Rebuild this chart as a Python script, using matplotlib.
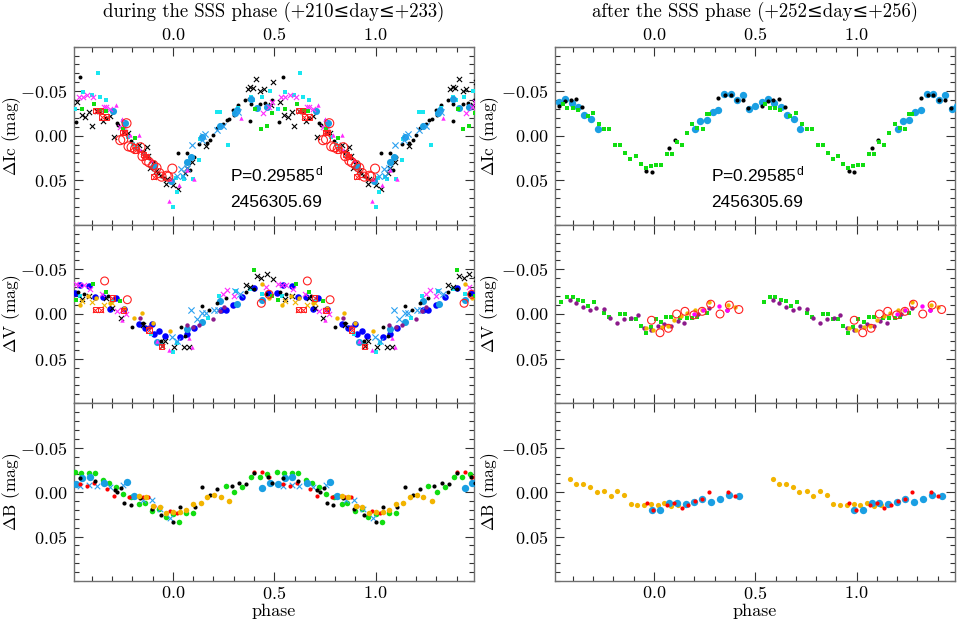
import numpy as np
import matplotlib
matplotlib.use("Agg")
import matplotlib.pyplot as plt
from matplotlib.ticker import FixedLocator, MultipleLocator, FuncFormatter

plt.rcParams['font.family'] = ['cmr10', 'DejaVu Serif']
plt.rcParams['mathtext.fontset'] = 'cm'
plt.rcParams['axes.unicode_minus'] = False

# ---------------- data: phases folded into [-0.5, 0.5) ----------------
# top-left: Delta Ic during SSS
ic_d_kdot_p = [-0.459,-0.479,-0.362,-0.330,-0.278,-0.270,-0.205,-0.150,-0.120,-0.100,-0.072,-0.060,-0.045,0.026,0.071,0.084,0.102,0.130,0.166,0.183,0.199,0.219,0.232,0.248,0.265,0.278,0.298,0.301,0.322,0.355,0.377,0.383,0.380,0.429,0.454,0.487]
ic_d_kdot_m = [-0.066,-0.015,-0.028,-0.020,-0.014,-0.012,0.006,0.018,0.025,0.030,0.042,0.045,0.048,0.020,0.020,0.039,0.024,0.009,0.008,0.005,-0.001,-0.009,-0.012,-0.013,-0.018,-0.019,-0.029,-0.023,-0.035,-0.040,-0.041,-0.036,-0.017,-0.036,-0.037,-0.040]
ic_d_kx_p = [-0.472,-0.451,-0.434,-0.413,-0.401,-0.377,-0.364,-0.344,-0.310,-0.289,-0.242,-0.224,-0.166,-0.146,-0.130,-0.122,-0.113,-0.097,-0.084,-0.036,-0.031,0.002,0.026,0.059,0.071,0.095,0.163,0.368,0.380,0.393,0.410,0.430,0.447,0.462,0.482,0.495]
ic_d_kx_m = [-0.038,-0.023,-0.021,-0.027,-0.011,-0.028,-0.028,-0.016,-0.022,0.001,-0.004,-0.003,0.010,0.018,0.013,0.023,0.036,0.031,0.040,0.054,0.049,0.055,0.060,0.042,0.036,0.029,0.012,-0.052,-0.055,-0.054,-0.064,-0.050,-0.053,-0.033,-0.034,-0.060]
ic_d_cyan_p = [-0.482,-0.446,-0.401,-0.372,-0.360,-0.331,-0.245,-0.220,-0.196,-0.180,-0.140,0.002,0.013,0.018,0.048,0.056,0.100,0.130,0.133,0.215,0.232,0.273,0.306,0.322,0.383,0.396,0.437,0.479]
ic_d_cyan_m = [-0.030,-0.049,-0.046,-0.070,-0.043,-0.040,-0.017,0.001,0.009,0.014,0.022,0.080,0.047,0.063,0.046,0.049,0.049,0.027,0.004,-0.027,-0.027,0.010,-0.026,-0.031,-0.043,-0.040,-0.043,-0.050]
ic_d_dsb_p = [-0.294,-0.234,-0.094,-0.008,0.071,0.090,0.145,0.232,0.306,0.317,0.383,0.413,0.462]
ic_d_dsb_m = [-0.028,-0.014,0.034,0.051,0.029,0.024,0.002,-0.011,-0.025,-0.029,-0.041,-0.031,-0.032]
ic_d_lbx_p = [0.018,0.041,0.048,0.067,0.095,0.141,0.150,0.160,0.215,0.248,0.322]
ic_d_lbx_m = [0.045,0.037,0.045,0.036,0.010,0.005,0.000,-0.002,-0.006,-0.011,-0.027]
ic_d_mx_p = [-0.465,-0.446,-0.423,-0.393,-0.340,-0.330,-0.310,-0.260,-0.240,0.446,0.475,0.490]
ic_d_mx_m = [-0.043,-0.043,-0.046,-0.043,-0.032,-0.032,-0.030,-0.010,-0.007,-0.026,-0.032,-0.038]
ic_d_mtri_p = [-0.283,-0.250,-0.212,-0.168,-0.163,-0.109,-0.020,-0.015,0.030,0.071,0.104,0.334]
ic_d_mtri_m = [-0.034,-0.019,-0.001,-0.001,0.016,0.027,0.073,0.049,0.055,0.038,0.049,-0.020]
ic_d_green_p = [-0.447,-0.390,-0.360,-0.332,-0.245,-0.188,0.405,0.433,0.462,0.490]
ic_d_green_m = [-0.030,-0.036,-0.029,-0.028,-0.008,0.003,-0.030,-0.008,-0.011,-0.025]
ic_d_ro_p = [-0.229,-0.260,-0.245,-0.219,-0.204,-0.187,-0.160,-0.150,-0.130,-0.117,-0.097,-0.081,-0.067,-0.056,-0.031,-0.023,-0.003]
ic_d_ro_m = [-0.014,0.005,0.004,0.012,0.013,0.015,0.013,0.023,0.028,0.030,0.033,0.036,0.042,0.046,0.045,0.046,0.037]
ic_d_rbx_p = [-0.380,-0.360,-0.352,-0.327,-0.248,-0.237,-0.184,-0.146,-0.133,-0.094]
ic_d_rbx_m = [-0.028,-0.028,-0.021,-0.021,-0.004,-0.004,0.016,0.021,0.023,0.046]

# middle-left: Delta V during SSS
v_d_blue_p = [-0.485,-0.459,-0.414,-0.382,-0.345,-0.310,-0.283,-0.242,-0.168,-0.137,-0.102,-0.094,-0.069,-0.041,0.035,0.071,0.104,0.235,0.260,0.298,0.342,0.400,0.469]
v_d_blue_m = [-0.023,-0.032,-0.031,-0.019,-0.019,-0.006,-0.018,-0.006,0.011,0.016,0.011,0.022,0.019,0.025,0.026,0.022,0.016,-0.004,-0.004,-0.010,-0.019,-0.029,-0.023]
v_d_cyan_p = [-0.460,-0.300,-0.107,-0.060,0.002,0.020,0.145,0.175,0.227,0.309,0.380,0.440]
v_d_cyan_m = [-0.020,-0.015,0.022,0.033,0.042,0.032,0.009,0.004,-0.020,-0.026,-0.028,-0.022]
v_d_dsb_p = [-0.080,0.071,0.145,0.232,0.314,0.440]
v_d_dsb_m = [0.031,0.017,0.009,-0.014,-0.011,-0.016]
v_d_lbx_p = [-0.003,0.020,0.090,0.117,0.145,0.161,0.202,0.222,0.306,0.330]
v_d_lbx_m = [0.026,0.030,-0.004,0.006,-0.001,-0.001,-0.004,-0.005,-0.026,-0.022]
v_d_kdot_p = [-0.470,-0.440,-0.320,-0.200,-0.150,-0.060,0.038,0.060,0.145,0.180,0.219,0.260,0.359,0.400,0.460]
v_d_kdot_m = [-0.025,-0.022,-0.020,0.015,0.010,0.030,0.015,0.025,-0.009,-0.005,-0.012,-0.018,-0.025,-0.028,-0.022]
v_d_kx_p = [-0.447,-0.414,-0.330,-0.300,-0.258,-0.150,-0.053,-0.040,0.005,0.054,0.079,0.359,0.380,0.413,0.436,0.462,0.493]
v_d_kx_m = [-0.017,-0.020,-0.018,-0.007,0.005,0.012,0.036,0.030,0.037,0.037,0.037,-0.033,-0.030,-0.042,-0.040,-0.045,-0.039]
v_d_mx_p = [-0.480,-0.464,-0.440,-0.410,-0.350,-0.278,-0.250,-0.230,0.248,0.268,0.300,0.460]
v_d_mx_m = [-0.034,-0.032,-0.033,-0.028,-0.022,-0.003,-0.004,0.000,-0.022,-0.027,-0.020,-0.030]
v_d_mtri_p = [-0.250,-0.080,-0.020,0.079,0.095]
v_d_mtri_m = [0.007,0.030,0.040,0.027,0.037]
v_d_purple_p = [-0.160,-0.120,0.067,0.100,0.130,0.199,0.230,0.250]
v_d_purple_m = [0.005,0.015,0.012,0.014,0.012,0.006,-0.003,-0.008]
v_d_orange_p = [-0.460,-0.420,-0.380,-0.310,-0.240,-0.190,-0.155,-0.100,-0.015,0.440,0.475]
v_d_orange_m = [-0.010,-0.020,-0.018,-0.012,-0.007,0.004,-0.001,0.010,0.019,-0.034,-0.018]
v_d_ox_p = [-0.447,-0.400,-0.340,-0.300]
v_d_ox_m = [-0.015,-0.013,-0.010,-0.012]
v_d_green_p = [-0.480,-0.393,-0.329,-0.262,0.400,0.490]
v_d_green_m = [-0.016,-0.034,-0.025,-0.014,-0.049,-0.020]
v_d_ro_p = [-0.337,-0.225,0.436,0.474]
v_d_ro_m = [-0.037,-0.016,-0.012,-0.022]
v_d_rbx_p = [-0.382,-0.357,-0.300,-0.245,-0.118,-0.056]
v_d_rbx_m = [-0.005,-0.005,-0.018,-0.004,0.018,0.036]

# bottom-left: Delta B during SSS
b_d_green_p = [-0.485,-0.452,-0.414,-0.382,-0.344,-0.313,-0.281,-0.245,-0.206,-0.168,-0.140,-0.102,-0.069,-0.036,0.000,0.031,0.066,0.099,0.260,0.301,0.342,0.387,0.428,0.466]
b_d_green_m = [-0.023,-0.021,-0.021,-0.021,-0.014,-0.010,-0.006,0.002,0.005,0.013,0.012,0.021,0.019,0.028,0.025,0.034,0.023,0.024,-0.007,0.000,-0.006,-0.017,-0.017,-0.020]
b_d_dsb_p = [-0.480,-0.447,-0.411,-0.340,-0.225,-0.192,0.441,0.477]
b_d_dsb_m = [-0.009,-0.016,-0.017,-0.010,-0.011,0.004,-0.005,-0.010]
b_d_lbx_p = [-0.459,-0.413,-0.377,-0.311,-0.245,-0.146,-0.105,-0.064,-0.015]
b_d_lbx_m = [-0.007,-0.008,-0.007,-0.006,-0.008,0.009,0.009,0.019,0.029]
b_d_red_p = [-0.459,-0.423,-0.390,-0.324,-0.291,-0.217,-0.150,-0.123,-0.094,-0.016,0.021,0.401,0.441,0.474]
b_d_red_m = [-0.009,-0.007,-0.010,-0.004,0.004,0.006,0.005,0.006,0.016,0.021,0.023,-0.023,-0.023,-0.017]
b_d_kdot_p = [-0.459,-0.382,-0.288,-0.275,-0.255,-0.239,-0.209,-0.160,-0.105,-0.058,0.002,0.035,0.107,0.145,0.183,0.219,0.289,0.326,0.362,0.400,0.469,0.490]
b_d_kdot_m = [-0.016,-0.013,-0.002,0.000,-0.005,0.012,0.015,0.007,0.019,0.026,0.034,0.017,0.017,-0.006,0.003,-0.003,-0.007,-0.010,-0.009,-0.022,-0.017,-0.010]
b_d_orange_p = [-0.168,-0.135,-0.099,-0.066,-0.033,0.000,0.035,0.066,0.100,0.137,0.169,0.202,0.235,0.276]
b_d_orange_m = [0.004,0.006,0.016,0.017,0.024,0.022,0.022,0.020,0.013,0.012,0.006,0.003,0.006,0.010]

# top-right: Delta Ic after SSS
ic_a_dsb_p = [-0.469,-0.438,-0.406,-0.373,-0.344,-0.308,-0.278,0.202,0.227,0.260,0.289,0.317,0.347,0.378,0.408,0.438,0.470,0.497]
ic_a_dsb_m = [-0.038,-0.041,-0.037,-0.032,-0.023,-0.019,-0.008,-0.008,-0.016,-0.018,-0.027,-0.029,-0.047,-0.047,-0.040,-0.046,-0.030,-0.033]
ic_a_kdot_p = [-0.469,-0.439,-0.411,-0.382,-0.354,-0.039,-0.012,0.076,0.104,0.317,0.350,0.378,0.408,0.438,0.465]
ic_a_kdot_m = [-0.033,-0.039,-0.040,-0.041,-0.032,0.040,0.041,0.014,0.005,-0.042,-0.046,-0.046,-0.040,-0.040,-0.031]
ic_a_green_p = [-0.451,-0.428,-0.401,-0.377,-0.327,-0.299,-0.271,-0.247,-0.220,-0.192,-0.168,-0.143,-0.118,-0.090,-0.066,-0.041,-0.016,0.008,0.033,0.063,0.087,0.112,0.137,0.161,0.189,0.214,0.240,0.260,0.273]
ic_a_green_m = [-0.036,-0.031,-0.031,-0.029,-0.022,-0.025,-0.013,-0.007,-0.007,0.010,0.010,0.019,0.026,0.023,0.032,0.036,0.034,0.033,0.033,0.021,0.021,0.007,0.010,-0.003,-0.013,-0.009,-0.008,-0.024,-0.024]

# middle-right: Delta V after SSS
v_a_green_p = [-0.456,-0.428,-0.401,-0.373,-0.349,-0.324,-0.296,-0.247,-0.220,-0.168,-0.143,-0.115,-0.090,-0.066,-0.041,-0.016,0.008,0.035,0.059,0.084,0.130,0.161,0.189,0.214,0.260]
v_a_green_m = [-0.013,-0.019,-0.019,-0.016,-0.014,-0.009,-0.013,-0.001,0.003,0.000,0.000,0.006,0.006,0.013,0.021,0.015,0.006,0.009,0.003,0.003,0.005,0.005,0.004,0.003,-0.001]
v_a_purple_p = [-0.414,-0.382,-0.349,-0.316,-0.286,-0.247,-0.217,-0.181,-0.148,-0.113,-0.081,-0.048,-0.015,0.018,0.051,0.084,0.117,0.150,0.219,0.273,0.362]
v_a_purple_m = [-0.016,-0.012,-0.008,-0.005,-0.007,-0.006,0.004,0.010,0.006,0.004,0.001,0.016,0.018,0.013,0.011,0.013,0.008,0.010,0.000,-0.007,-0.005]
v_a_orange_p = [-0.039,-0.003,0.038,0.067,0.100,0.133,0.164,0.202,0.235,0.273,0.367,0.400]
v_a_orange_m = [0.016,0.018,0.015,0.013,0.007,0.002,-0.001,-0.004,-0.004,-0.013,-0.010,-0.008]
v_a_ro_p = [-0.012,0.030,0.071,0.112,0.153,0.197,0.238,0.280,0.326,0.372,0.419]
v_a_ro_m = [0.007,0.021,0.016,0.000,-0.003,0.001,-0.003,-0.011,0.000,-0.010,-0.005]
v_a_mdot_p = [0.197,0.240,0.320,0.362]
v_a_mdot_m = [0.000,-0.004,-0.009,-0.005]

# bottom-right: Delta B after SSS
b_a_orange_p = [-0.414,-0.382,-0.349,-0.316,-0.283,-0.247,-0.214,-0.181,-0.148,-0.115,-0.082,-0.049,-0.015,0.018,0.051,0.084,0.120,0.153]
b_a_orange_m = [-0.015,-0.009,-0.009,-0.006,0.000,-0.001,0.004,-0.001,0.003,0.013,0.014,0.015,0.013,0.015,0.012,0.016,0.015,0.013]
b_a_red_p = [-0.036,-0.003,0.066,0.100,0.137,0.169,0.202,0.238,0.271,0.367,0.400]
b_a_red_m = [0.012,0.020,0.015,0.012,0.018,0.014,0.010,0.008,0.000,0.000,0.004]
b_a_dsb_p = [-0.012,0.030,0.074,0.112,0.156,0.199,0.238,0.281,0.326,0.372,0.419]
b_a_dsb_m = [0.020,0.020,0.012,0.012,0.013,0.011,0.008,0.011,0.008,0.003,0.004]

titles = ["during the SSS phase (+210\u2264day\u2264+233)",
          "after the SSS phase (+252\u2264day\u2264+256)"]
ylabels = ["$\\Delta$Ic (mag)", "$\\Delta$V (mag)", "$\\Delta$B (mag)"]
period_text = "P=0.29585$^{\\mathregular{d}}$"
epoch_text = "2456305.69"

# ---------------- colours / marker styles ----------------
C_K = 'black'
C_CYAN = '#19e6f0'
C_DSB = '#1a9fe3'
C_LBX = '#2aa0f0'
C_MAG = '#ff2bff'
C_GRN = '#11dd11'
C_RED = '#ff2020'
C_BLUE = '#0000ff'
C_PUR = '#8b1a8b'
C_ORA = '#f2b400'


def rep(p, m):
    p = np.asarray(p, float)
    m = np.asarray(m, float)
    return np.concatenate([p, p + 1.0]), np.concatenate([m, m])


def kdot(ax, p, m, c=C_K, s=8):
    x, y = rep(p, m)
    ax.scatter(x, y, s=s, c=c, marker='o', linewidths=0, zorder=3)


def xmark(ax, p, m, c, s=14, lw=0.8):
    x, y = rep(p, m)
    ax.scatter(x, y, s=s, c=c, marker='x', linewidths=lw, zorder=3)


def sq(ax, p, m, c, s=12):
    x, y = rep(p, m)
    ax.scatter(x, y, s=s, c=c, marker='s', linewidths=0, zorder=3)


def circ(ax, p, m, c, s=26):
    x, y = rep(p, m)
    ax.scatter(x, y, s=s, c=c, marker='o', linewidths=0, zorder=3)


def tri(ax, p, m, c, s=10):
    x, y = rep(p, m)
    ax.scatter(x, y, s=s, c=c, marker='^', linewidths=0, zorder=3)


def ring(ax, p, m, c, s=42):
    x, y = rep(p, m)
    ax.scatter(x, y, s=s, facecolors='none', edgecolors=c, marker='o', linewidths=0.8, zorder=4)


def boxx(ax, p, m, c):
    x, y = rep(p, m)
    ax.scatter(x, y, s=14, facecolors='none', edgecolors=c, marker='s', linewidths=0.7, zorder=4)
    ax.scatter(x, y, s=14, c=c, marker='x', linewidths=0.7, zorder=4)


W, H = 959.0, 626.0
col_x = [(74, 474), (555, 955)]
row_y = [(46.7, 224.7), (224.7, 403.3), (403.3, 581.0)]
ylab_x = [-0.128, -0.135]

fig = plt.figure(figsize=(W / 100, H / 100), dpi=100)
axes = [[None] * 2 for _ in range(3)]
for r in range(3):
    for c in range(2):
        x0, x1 = col_x[c]
        y0, y1 = row_y[r]
        ax = fig.add_axes([x0 / W, 1 - y1 / H, (x1 - x0) / W, (y1 - y0) / H])
        axes[r][c] = ax
        ax.set_xlim(-0.488, 1.485)
        ax.set_ylim(0.1, -0.1)
        ax.xaxis.set_major_locator(FixedLocator([0.0, 0.5, 1.0]))
        ax.xaxis.set_minor_locator(MultipleLocator(0.1))
        ax.yaxis.set_major_locator(FixedLocator([-0.05, 0.0, 0.05]))
        ax.yaxis.set_minor_locator(MultipleLocator(0.01))
        ax.xaxis.set_major_formatter(FuncFormatter(lambda v, pos: "$%.1f$" % v))
        ax.yaxis.set_major_formatter(FuncFormatter(lambda v, pos: "$%.2f$" % (0.0 if abs(v) < 1e-9 else v)))
        ax.tick_params(which='both', direction='in', top=True, right=True,
                       labeltop=(r == 0), labelbottom=(r == 2), labelsize=13,
                       color='#333333', width=0.8)
        ax.tick_params(which='major', length=6.5)
        ax.tick_params(axis='x', which='major', pad=3)
        ax.tick_params(axis='y', which='major', pad=5)
        ax.tick_params(which='minor', length=3.5)
        for sp in ax.spines.values():
            sp.set_color('#707070')
            sp.set_linewidth(1.0)
        ax.set_ylabel(ylabels[r], fontsize=12.5)
        ax.yaxis.set_label_coords(ylab_x[c], 0.5)
        if r == 2:
            ax.set_xlabel("phase", fontsize=13, labelpad=1)
        if r == 0:
            ax.text(0.281, 0.045, period_text, fontsize=12.5, va='center', ha='left',
                    family=['Liberation Sans', 'DejaVu Sans'], zorder=5)
            ax.text(0.281, 0.075, epoch_text, fontsize=12.5, va='center', ha='left',
                    family=['Liberation Sans', 'DejaVu Sans'], zorder=5)

for c in range(2):
    xc = (col_x[c][0] + col_x[c][1]) / 2 / W
    fig.text(xc, 1 - 12 / H, titles[c], ha='center', va='center', fontsize=13.5)

# ---- top-left ----
a = axes[0][0]
xmark(a, ic_d_kx_p, ic_d_kx_m, C_K)
kdot(a, ic_d_kdot_p, ic_d_kdot_m)
sq(a, ic_d_cyan_p, ic_d_cyan_m, C_CYAN)
circ(a, ic_d_dsb_p, ic_d_dsb_m, C_DSB)
xmark(a, ic_d_lbx_p, ic_d_lbx_m, C_LBX, s=20)
xmark(a, ic_d_mx_p, ic_d_mx_m, C_MAG)
tri(a, ic_d_mtri_p, ic_d_mtri_m, C_MAG)
sq(a, ic_d_green_p, ic_d_green_m, C_GRN)
ring(a, ic_d_ro_p, ic_d_ro_m, C_RED)
boxx(a, ic_d_rbx_p, ic_d_rbx_m, C_RED)

# ---- middle-left ----
a = axes[1][0]
circ(a, v_d_blue_p, v_d_blue_m, C_BLUE, s=22)
sq(a, v_d_cyan_p, v_d_cyan_m, C_CYAN)
circ(a, v_d_dsb_p, v_d_dsb_m, C_DSB)
xmark(a, v_d_lbx_p, v_d_lbx_m, C_LBX, s=20)
kdot(a, v_d_kdot_p, v_d_kdot_m)
xmark(a, v_d_kx_p, v_d_kx_m, C_K)
xmark(a, v_d_mx_p, v_d_mx_m, C_MAG)
tri(a, v_d_mtri_p, v_d_mtri_m, C_MAG)
kdot(a, v_d_purple_p, v_d_purple_m, c=C_PUR, s=10)
kdot(a, v_d_orange_p, v_d_orange_m, c=C_ORA, s=10)
xmark(a, v_d_ox_p, v_d_ox_m, C_ORA)
sq(a, v_d_green_p, v_d_green_m, C_GRN)
ring(a, v_d_ro_p, v_d_ro_m, C_RED, s=32)
boxx(a, v_d_rbx_p, v_d_rbx_m, C_RED)

# ---- bottom-left ----
a = axes[2][0]
circ(a, b_d_green_p, b_d_green_m, C_GRN, s=16)
circ(a, b_d_dsb_p, b_d_dsb_m, C_DSB, s=28)
xmark(a, b_d_lbx_p, b_d_lbx_m, C_LBX, s=16)
kdot(a, b_d_red_p, b_d_red_m, c='#ff0000', s=9)
kdot(a, b_d_kdot_p, b_d_kdot_m, s=9)
circ(a, b_d_orange_p, b_d_orange_m, C_ORA, s=16)

# ---- top-right ----
a = axes[0][1]
circ(a, ic_a_dsb_p, ic_a_dsb_m, C_DSB, s=28)
kdot(a, ic_a_kdot_p, ic_a_kdot_m, s=9)
sq(a, ic_a_green_p, ic_a_green_m, C_GRN, s=11)

# ---- middle-right ----
a = axes[1][1]
sq(a, v_a_green_p, v_a_green_m, C_GRN, s=12)
kdot(a, v_a_purple_p, v_a_purple_m, c=C_PUR, s=10)
kdot(a, v_a_orange_p, v_a_orange_m, c=C_ORA, s=10)
ring(a, v_a_ro_p, v_a_ro_m, C_RED, s=32)
kdot(a, v_a_mdot_p, v_a_mdot_m, c='#ff00ff', s=10)

# ---- bottom-right ----
a = axes[2][1]
circ(a, b_a_orange_p, b_a_orange_m, C_ORA, s=14)
circ(a, b_a_dsb_p, b_a_dsb_m, C_DSB, s=28)
kdot(a, b_a_red_p, b_a_red_m, c='#ff0000', s=9)

fig.savefig("out.png", dpi=100)
